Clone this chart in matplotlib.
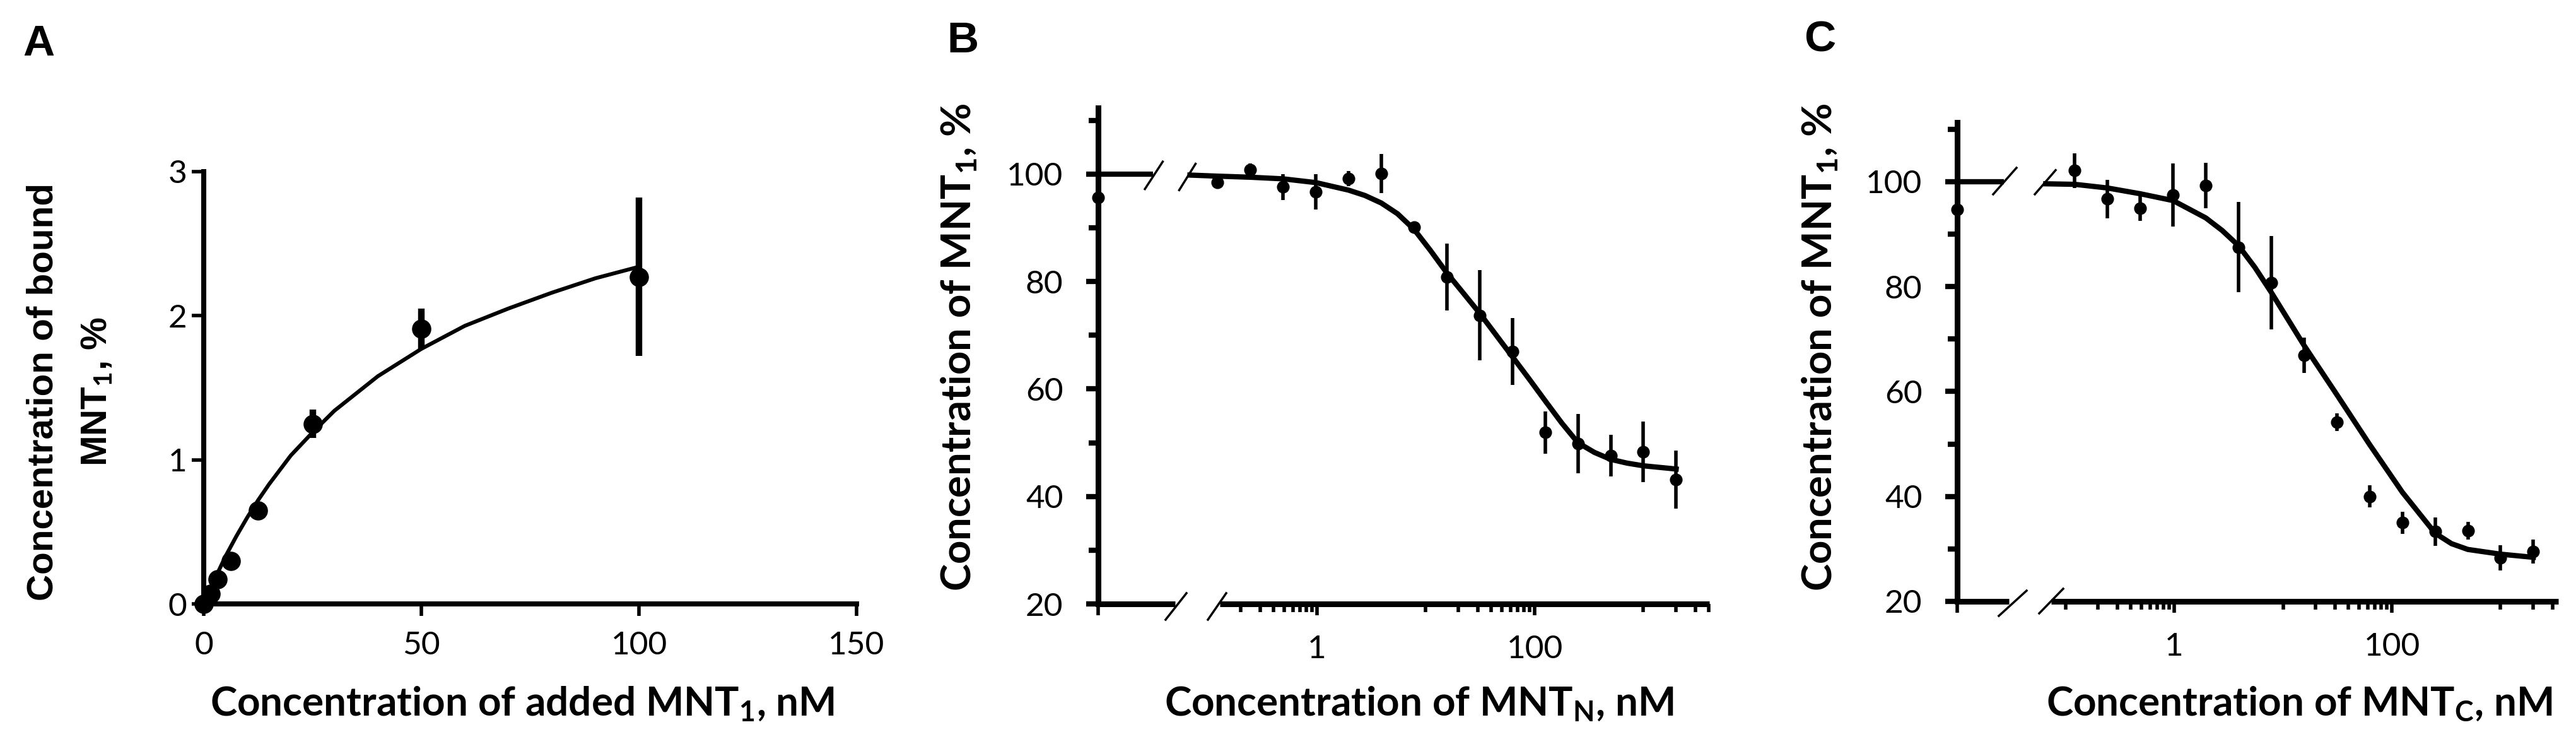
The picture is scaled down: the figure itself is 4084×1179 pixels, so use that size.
import matplotlib
matplotlib.use('Agg')
import matplotlib.pyplot as plt
from matplotlib.transforms import blended_transform_factory

plt.rcParams['font.family'] = ['Lato', 'DejaVu Sans']
plt.rcParams['mathtext.fontset'] = 'custom'
plt.rcParams['mathtext.rm'] = 'Lato:bold'
plt.rcParams['mathtext.it'] = 'Lato:bold:italic'
plt.rcParams['mathtext.bf'] = 'Lato:bold'

W, H = 4084, 1179

# ---- panel A: binding of MNT1 ----
a_conc = [0, 1.5625, 3.125, 6.25, 12.5, 25, 50, 100]
a_bound = [0, 0.07, 0.17, 0.30, 0.65, 1.25, 1.91, 2.27]
a_err = [0, 0, 0, 0, 0, 0.10, 0.14, 0.55]
a_fit_x = [2.5, 5, 7.5, 10, 12.5, 15, 20, 25, 30, 40, 50, 60, 70, 80, 90, 100]
a_fit_y = [0.17, 0.33, 0.47, 0.60, 0.72, 0.83, 1.03, 1.19, 1.34, 1.58, 1.77,
           1.93, 2.05, 2.16, 2.26, 2.34]

# ---- panels B, C: competition (2-fold dilutions) ----
comp_conc = [0.122, 0.244, 0.488, 0.977, 1.95, 3.9, 7.8, 15.6, 31.25, 62.5,
             125, 250, 500, 1000, 2000]

b_val = [98.4, 100.8, 97.6, 96.7, 99.1, 100.1, 90.1, 80.8, 73.7, 67.0,
         51.9, 49.8, 47.6, 48.3, 43.1]
b_err = [0.8, 1.2, 2.4, 3.3, 1.4, 3.6, 0.5, 6.2, 8.4, 6.2,
         3.9, 5.5, 3.9, 5.6, 5.4]
b_zero = 95.6
b_fit_x = [0.068, 0.122, 0.244, 0.488, 0.977, 1.95, 2.76, 3.9, 5.5, 7.8, 11,
           15.6, 22, 31.25, 44, 62.5, 88, 125, 177, 250, 354, 500, 707, 1000, 2000]
b_fit_y = [99.8, 99.6, 99.4, 99.1, 98.4, 97.0, 96.0, 94.6, 92.6, 89.7, 85.8,
           81.6, 77.9, 74.1, 70.1, 66.0, 62.0, 57.8, 53.7, 50.0, 48.2, 46.9, 46.2, 45.7, 45.1]

c_val = [102.1, 96.7, 94.9, 97.5, 99.3, 87.5, 80.8, 66.9, 54.2, 40.0,
         35.0, 33.3, 33.5, 28.3, 29.5]
c_err = [3.3, 3.7, 2.4, 6.0, 4.3, 8.6, 8.9, 3.4, 1.7, 2.1,
         2.1, 2.7, 1.7, 2.4, 2.3]
c_zero = 94.7
c_fit_x = [0.066, 0.122, 0.244, 0.488, 0.977, 1.95, 2.76, 3.9, 5.5, 7.8,
           15.6, 31.25, 62.5, 125, 250, 354, 500, 1000, 2000]
c_fit_y = [99.6, 99.5, 98.8, 97.7, 96.4, 93.1, 90.7, 87.8, 83.7, 78.9,
           68.8, 59.4, 49.9, 40.8, 33.0, 31.0, 29.9, 29.0, 28.4]

b_minor = [0.2, 0.3, 0.4, 0.5, 0.6, 0.7, 0.8, 0.9,
           10, 20, 30, 40, 50, 60, 70, 80, 90, 1000, 2000, 3000, 4000]
c_minor = [0.1, 0.2, 0.3, 0.4, 0.5, 0.6, 0.7, 0.8, 0.9,
           10, 20, 30, 40, 50, 60, 70, 80, 90, 1000, 2000, 3000]

TICK_FONT = 37
XLABEL_FONT = 46
YLABEL_FONT = 47


def px_rect(left, top, right, bottom):
    return [left / W, 1 - bottom / H, (right - left) / W, (bottom - top) / H]


def px(x, y):
    return x / W, 1 - y / H


fig = plt.figure(figsize=(W / 100, H / 100), dpi=100)

# ================= A =================
axA = fig.add_axes(px_rect(323, 272, 1358, 957))
axA.plot(a_fit_x, a_fit_y, color='k', lw=4.4)
axA.errorbar(a_conc, a_bound, yerr=a_err, fmt='o', color='k', ms=21,
             elinewidth=7.5, capsize=0, clip_on=False, zorder=3)
axA.set_xlim(0, 150)
axA.set_ylim(0, 3)
axA.set_xticks([0, 50, 100, 150])
axA.set_yticks([0, 1, 2, 3])
for s in ['top', 'right']:
    axA.spines[s].set_visible(False)
for s in ['left', 'bottom']:
    axA.spines[s].set_linewidth(5.8)
axA.tick_params(axis='x', direction='out', length=14, width=4,
                labelsize=TICK_FONT, pad=17)
axA.tick_params(axis='y', direction='out', length=14, width=4,
                labelsize=TICK_FONT, pad=5)


def break_panel(ax, zero_val, conc, val, err, fit_x, fit_y, xlim, ylim,
                minor, low_seg1, low_sl1, low_sl2, low_seg2,
                up_end, up_sl1, up_sl2):
    blend = blended_transform_factory(ax.transAxes, ax.transData)
    ax.set_xscale('log')
    ax.set_xlim(*xlim)
    ax.set_ylim(*ylim)
    # fitted curve
    ax.plot(fit_x, fit_y, color='k', lw=6, zorder=2)
    ax.plot([0, up_end], [100, 100], color='k', lw=6, transform=blend,
            clip_on=False, solid_capstyle='butt')
    # data
    ax.errorbar(conc, val, yerr=err, fmt='o', color='k', ms=13.5,
                elinewidth=4, capsize=0, zorder=3)
    ax.plot([0], [zero_val], 'o', color='k', ms=13.5, transform=blend,
            clip_on=False, zorder=4)
    # axes with breaks
    for s in ['top', 'right', 'bottom']:
        ax.spines[s].set_visible(False)
    lw_ax = 6.5
    ax.spines['left'].set_linewidth(lw_ax)
    ax.plot([0, low_seg1], [0, 0], color='k', lw=lw_ax, transform=ax.transAxes,
            clip_on=False, solid_capstyle='butt')
    ax.plot([low_seg2, 1], [0, 0], color='k', lw=lw_ax, transform=ax.transAxes,
            clip_on=False, solid_capstyle='butt')
    for (x0, y0, x1, y1) in (low_sl1, low_sl2):
        ax.plot([x0, x1], [y0, y1], color='k', lw=2.5, transform=ax.transAxes,
                clip_on=False)
    for (x0, y0, x1, y1) in (up_sl1, up_sl2):
        ax.plot([x0, x1], [y0, y1], color='k', lw=2.5, transform=blend,
                clip_on=False)
    ax.set_xticks([xlim[0], 1, 100], ['', '1', '100'])
    ax.set_xticks(minor, minor=True)
    ax.xaxis.set_minor_formatter(plt.NullFormatter())
    ax.set_yticks([20, 40, 60, 80, 100])
    ax.set_yticks([30, 50, 70, 90, 110], minor=True)
    ax.tick_params(axis='x', which='major', direction='out', length=13,
                   width=4, labelsize=TICK_FONT, pad=22)
    ax.tick_params(axis='x', which='minor', direction='out', length=9,
                   width=4)
    ax.tick_params(axis='y', which='major', direction='out', length=14,
                   width=6, labelsize=TICK_FONT, pad=26)
    ax.tick_params(axis='y', which='minor', direction='out', length=10.5,
                   width=6)


# ================= B =================
axB = fig.add_axes(px_rect(1741, 171, 2710, 957))
break_panel(axB, b_zero, comp_conc, b_val, b_err, b_fit_x, b_fit_y,
            (0.00974, 4035), (20, 112.3), b_minor,
            0.1259, (0.1104, -0.0318, 0.1445, 0.0216),
            (0.1796, -0.0318, 0.2095, 0.0216), 0.1992,
            0.0900, (0.0765, 97.2, 0.1057, 102.3), (0.1326, 97.0, 0.1594, 101.9))

# ================= C =================
axC = fig.add_axes(px_rect(3103, 194, 4056, 953))
break_panel(axC, c_zero, comp_conc, c_val, c_err, c_fit_x, c_fit_y,
            (0.01013, 3392), (20, 111.3), c_minor,
            0.0860, (0.0692, -0.0303, 0.1154, 0.0224),
            (0.1364, -0.0250, 0.1763, 0.0264), 0.1563,
            0.0776, (0.0598, 97.6, 0.0986, 102.65), (0.1291, 97.6, 0.1637, 102.2))

# ================= labels =================
fig.text(*px(828, 1134), 'Concentration of added MNT$_\\mathrm{1}$, nM',
         fontsize=XLABEL_FONT, fontweight='bold', ha='center', va='baseline')
fig.text(*px(2250, 1134), 'Concentration of MNT$_\\mathrm{N}$, nM',
         fontsize=XLABEL_FONT, fontweight='bold', ha='center', va='baseline')
fig.text(*px(3645, 1134), 'Concentration of MNT$_\\mathrm{C}$, nM',
         fontsize=XLABEL_FONT, fontweight='bold', ha='center', va='baseline')

fig.text(*px(69, 621), 'Concentration of bound', fontsize=42,
         family='Liberation Sans', fontweight='bold', rotation=90,
         ha='center', va='center')
fig.text(*px(154, 621), 'MNT$_\\mathrm{1}$, %', fontsize=42,
         family='Liberation Sans', fontweight='bold', rotation=90,
         ha='center', va='center')
fig.text(*px(1521, 550), 'Concentration of MNT$_\\mathrm{1}$, %',
         fontsize=YLABEL_FONT, fontweight='bold', rotation=90,
         ha='center', va='center')
fig.text(*px(2886, 550), 'Concentration of MNT$_\\mathrm{1}$, %',
         fontsize=YLABEL_FONT, fontweight='bold', rotation=90,
         ha='center', va='center')

for letter, (x, y) in zip('ABC', [(61, 70), (1526, 65), (2885, 64)]):
    fig.text(*px(x, y), letter, fontsize=50, family='Liberation Sans',
             fontweight='bold', ha='center', va='center')

fig.savefig('out.png', dpi=100)
